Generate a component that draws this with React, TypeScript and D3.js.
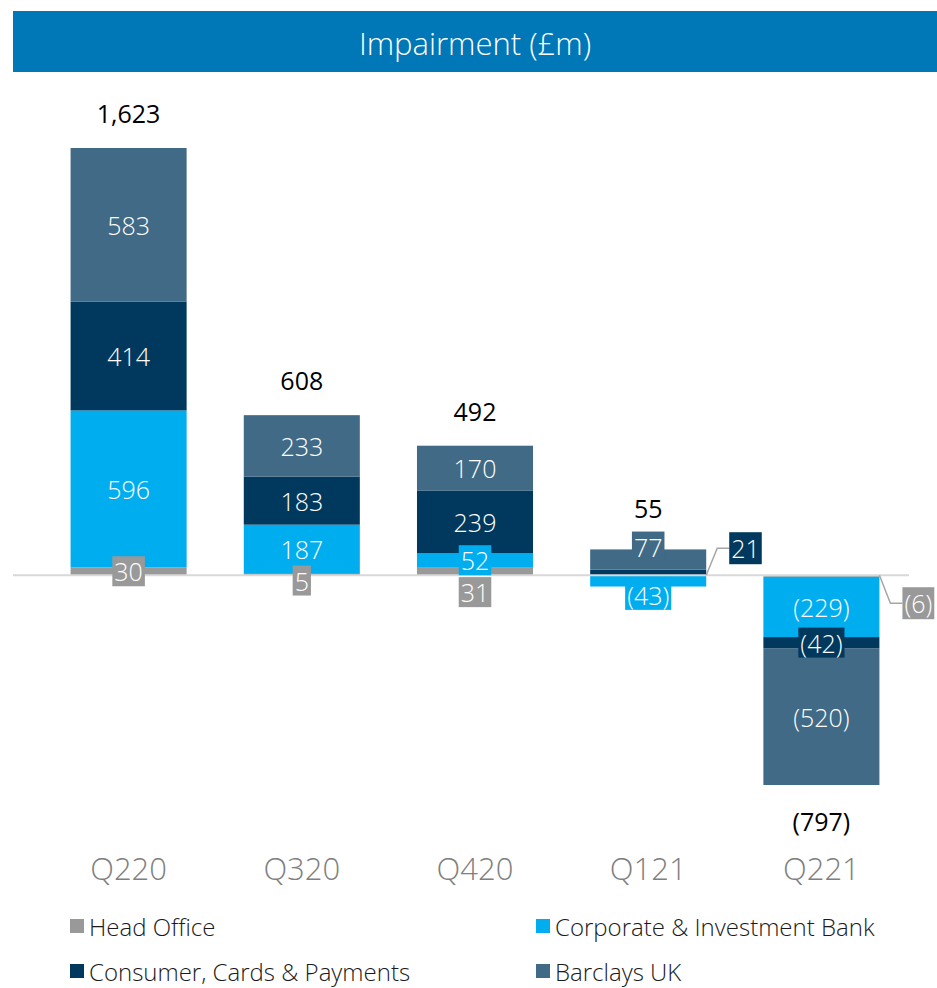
import React, { useEffect, useRef } from 'react';
import * as d3 from 'd3';

// quarters and the four divisions (values in £m)
const quarters = ['Q220', 'Q320', 'Q420', 'Q121', 'Q221'];
const seriesKeys = ['ho', 'cib', 'ccp', 'buk'];
const seriesNames = ['Head Office', 'Corporate & Investment Bank', 'Consumer, Cards & Payments', 'Barclays UK'];
const headOffice = [30, 5, 31, 0, -6];
const corporateInvestment = [596, 187, 52, -43, -229];
const consumerCards = [414, 183, 239, 21, -42];
const barclaysUK = [583, 233, 170, 77, -520];
const totals = [1623, 608, 492, 55, -797];

const colors: Record<string, string> = {
  ho: '#999999',
  cib: '#00AEEF',
  ccp: '#00395D',
  buk: '#416A86',
};

// labels that sit beside the bar with a leader line
const callouts: Record<string, string> = { Q121: 'ccp', Q221: 'ho' };
// small vertical nudges Excel applied to crowded labels
const nudges: Record<string, number> = { 'Q320-ho': 6, 'Q420-ho': 21, 'Q121-buk': -13, 'Q121-cib': 14, 'Q121-total': -6 };

const FONT = '"Open Sans", "Noto Sans", sans-serif';

const fmt = (v: number) => {
  const s = d3.format(',')(Math.abs(v));
  return v < 0 ? `(${s})` : s;
};

const App = () => {
  const svgRef = useRef<SVGSVGElement>(null);

  useEffect(() => {
    const width = 937;
    const height = 988;
    const svg = d3.select(svgRef.current);
    svg.selectAll('*').remove();

    // title banner
    svg.append('rect').attr('x', 13).attr('y', 11).attr('width', 924).attr('height', 61).attr('fill', '#0077B6');
    svg.append('text')
      .attr('x', 475).attr('y', 43)
      .attr('text-anchor', 'middle').attr('dominant-baseline', 'central')
      .attr('fill', '#fff').attr('font-family', FONT).attr('font-weight', 300).attr('font-size', 31)
      .text('Impairment (£m)');

    const rows = quarters.map((q, i) => ({
      q,
      ho: headOffice[i],
      cib: corporateInvestment[i],
      ccp: consumerCards[i],
      buk: barclaysUK[i],
    }));

    const stacked = d3.stack<any>().keys(seriesKeys).offset(d3.stackOffsetDiverging)(rows);

    const x = d3.scaleBand().domain(quarters).range([42, 908]).paddingInner(0.33).paddingOuter(0.165);
    const y = d3.scaleLinear().domain([-797, 1623]).range([785, 148]);

    // bars
    stacked.forEach((layer) => {
      svg.append('g').selectAll('rect')
        .data(layer)
        .enter()
        .append('rect')
        .attr('x', (d: any) => x(d.data.q)!)
        .attr('width', x.bandwidth())
        .attr('y', (d) => y(Math.max(d[0], d[1])))
        .attr('height', (d) => Math.abs(y(d[0]) - y(d[1])))
        .attr('fill', colors[layer.key]);
    });

    // zero line
    svg.append('line')
      .attr('x1', 13).attr('x2', 909)
      .attr('y1', y(0)).attr('y2', y(0))
      .attr('stroke', '#d9d9d9').attr('stroke-width', 2);

    // segment labels
    const labelG = svg.append('g').attr('font-family', FONT).attr('font-weight', 300).attr('font-size', 25);
    stacked.forEach((layer) => {
      layer.forEach((d: any) => {
        const q = d.data.q;
        const v = d.data[layer.key];
        if (v === 0) return;
        const segH = Math.abs(y(d[0]) - y(d[1]));
        const cx = x(q)! + x.bandwidth() / 2;
        const cy = (y(d[0]) + y(d[1])) / 2 + (nudges[`${q}-${layer.key}`] || 0);
        const txt = fmt(v);
        const g = labelG.append('g');
        const t = g.append('text')
          .attr('text-anchor', 'middle').attr('dominant-baseline', 'central')
          .attr('fill', '#fff').text(txt);
        if (callouts[q] === layer.key) {
          const x0 = x(q)! + x.bandwidth();
          const y0 = y(0);
          const ly = v > 0 ? y0 - 27 : y0 + 28;
          const bx = x0 + 23;
          g.insert('polyline', 'text')
            .attr('points', `${x0},${y0} ${x0 + 11},${ly} ${bx},${ly}`)
            .attr('fill', 'none').attr('stroke', '#a6a6a6').attr('stroke-width', 1.5);
          t.attr('x', bx).attr('y', ly).attr('text-anchor', 'start');
          const bb = (t.node() as SVGTextElement).getBBox();
          g.insert('rect', 'text')
            .attr('x', bx).attr('y', ly - 16).attr('width', bb.width + 4).attr('height', 32)
            .attr('fill', colors[layer.key]);
          t.attr('x', bx + 2);
          return;
        }
        t.attr('x', cx).attr('y', cy);
        if (segH < 28) {
          const bb = (t.node() as SVGTextElement).getBBox();
          g.insert('rect', 'text')
            .attr('x', bb.x - 2).attr('y', cy - 15).attr('width', bb.width + 4).attr('height', 30)
            .attr('fill', colors[layer.key]);
        }
      });
    });

    // totals
    svg.append('g').selectAll('text')
      .data(totals)
      .enter()
      .append('text')
      .attr('x', (d, i) => x(quarters[i])! + x.bandwidth() / 2)
      .attr('y', (d, i) => {
        const top = d3.max(stacked, (l) => l[i][1])!;
        const bottom = d3.min(stacked, (l) => l[i][0])!;
        const nudge = nudges[`${quarters[i]}-total`] || 0;
        return (d >= 0 ? y(top) - 35 : y(bottom) + 36) + nudge;
      })
      .attr('text-anchor', 'middle').attr('dominant-baseline', 'central')
      .attr('font-family', FONT).attr('font-size', 25).attr('fill', '#000')
      .text((d) => fmt(d));

    // category axis labels
    svg.append('g').selectAll('text')
      .data(quarters)
      .enter()
      .append('text')
      .attr('x', (d) => x(d)! + x.bandwidth() / 2)
      .attr('y', 868)
      .attr('text-anchor', 'middle').attr('dominant-baseline', 'central')
      .attr('font-family', FONT).attr('font-weight', 300).attr('font-size', 31).attr('fill', '#7f7f7f')
      .text((d) => d);

    // legend
    const legendPos = [
      [70, 926],
      [536, 926],
      [70, 971],
      [536, 971],
    ];
    const legend = svg.append('g').selectAll('g')
      .data(seriesKeys)
      .enter()
      .append('g')
      .attr('transform', (d, i) => `translate(${legendPos[i][0]},${legendPos[i][1]})`);
    legend.append('rect').attr('x', 0).attr('y', -7).attr('width', 14).attr('height', 14).attr('fill', (d) => colors[d]);
    legend.append('text')
      .attr('x', 19).attr('y', 0)
      .attr('dominant-baseline', 'central')
      .attr('font-family', FONT).attr('font-weight', 300).attr('font-size', 24).attr('fill', '#1a1a1a')
      .text((d, i) => seriesNames[i]);

    svg.attr('width', width).attr('height', height);
  }, []);

  return (
    <div style={{ position: 'absolute', left: 0, top: 0, background: '#fff' }}>
      <svg ref={svgRef} width={937} height={988} style={{ display: 'block' }}></svg>
    </div>
  );
};

export default App;
